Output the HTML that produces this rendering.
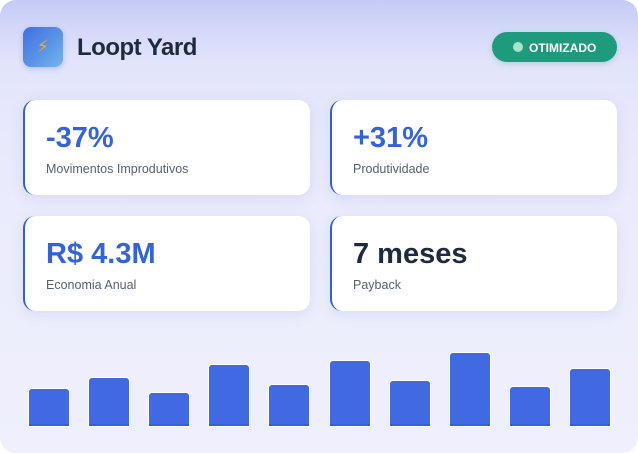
<!DOCTYPE html>
<html><head><meta charset="utf-8"><style>
html,body{margin:0;padding:0;background:#fff;}
body{width:638px;height:453px;position:relative;overflow:hidden;font-family:"Liberation Sans",sans-serif;}
.panel{position:absolute;left:0;top:0;width:638px;height:453px;border-radius:16px;
background:linear-gradient(180deg,#c4caf5 0%,#d3d8f8 6%,#e2e4fb 14%,#e8e9fc 30%,#ecedfc 60%,#efeffd 100%);overflow:hidden;}
.icon{position:absolute;left:23px;top:27px;width:40px;height:40px;border-radius:8px;
background:linear-gradient(135deg,#3f6fdf 0%,#5a93e6 55%,#74b6ee 100%);box-shadow:0 2px 6px rgba(60,90,200,0.25);}
.icon span{position:absolute;left:0;top:0;width:40px;height:40px;line-height:40px;text-align:center;font-size:17px;color:#f2b318;font-family:"DejaVu Sans",sans-serif;}
.title{position:absolute;left:77px;top:36px;font-size:24px;line-height:24px;font-weight:bold;color:#1e2a3e;letter-spacing:-0.5px;white-space:nowrap;}
.badge{position:absolute;left:492px;top:32px;width:125px;height:30px;border-radius:15px;background:#1e9b7c;box-shadow:0 2px 6px rgba(30,150,120,0.25);}
.badge .dot{position:absolute;left:21px;top:10px;width:10px;height:10px;border-radius:50%;background:#a6e4cc;}
.badge .t{position:absolute;left:37px;top:9.5px;font-size:12px;line-height:12px;font-weight:bold;color:#fff;white-space:nowrap;}
.card{position:absolute;width:287px;height:95px;background:#fff;border-radius:12px;border-left:2px solid #2f5fdc;box-sizing:border-box;
box-shadow:0 4px 14px rgba(90,100,190,0.12);}
.v{position:absolute;left:21px;top:24px;font-size:29px;line-height:29px;font-weight:bold;color:#3463db;white-space:nowrap;}
.v.dark{color:#1e2a3e;}
.l{position:absolute;left:21px;top:62.5px;font-size:12.5px;line-height:12.5px;color:#56616f;white-space:nowrap;}
.bar{position:absolute;width:40px;background:#4169e1;border-radius:3px 3px 0 0;box-shadow:0 0 0 1px rgba(255,255,255,0.8);border-bottom:2px solid #3562d9;box-sizing:border-box;}
</style></head><body>
<div class="panel">
  <div class="icon"><span>⚡</span></div>
  <div class="title">Loopt Yard</div>
  <div class="badge"><div class="dot"></div><div class="t">OTIMIZADO</div></div>

  <div class="card" style="left:23px;top:100px;"><div class="v">-37%</div><div class="l">Movimentos Improdutivos</div></div>
  <div class="card" style="left:330px;top:100px;"><div class="v">+31%</div><div class="l">Produtividade</div></div>
  <div class="card" style="left:23px;top:216px;"><div class="v">R$ 4.3M</div><div class="l">Economia Anual</div></div>
  <div class="card" style="left:330px;top:216px;"><div class="v dark">7 meses</div><div class="l">Payback</div></div>

  <div class="bar" style="left:29px;top:389px;height:37px;"></div>
  <div class="bar" style="left:89px;top:378px;height:48px;"></div>
  <div class="bar" style="left:149px;top:393px;height:33px;"></div>
  <div class="bar" style="left:209px;top:365px;height:61px;"></div>
  <div class="bar" style="left:269px;top:385px;height:41px;"></div>
  <div class="bar" style="left:330px;top:361px;height:65px;"></div>
  <div class="bar" style="left:390px;top:381px;height:45px;"></div>
  <div class="bar" style="left:450px;top:353px;height:73px;"></div>
  <div class="bar" style="left:510px;top:387px;height:39px;"></div>
  <div class="bar" style="left:570px;top:369px;height:57px;"></div>
</div>
</body></html>
